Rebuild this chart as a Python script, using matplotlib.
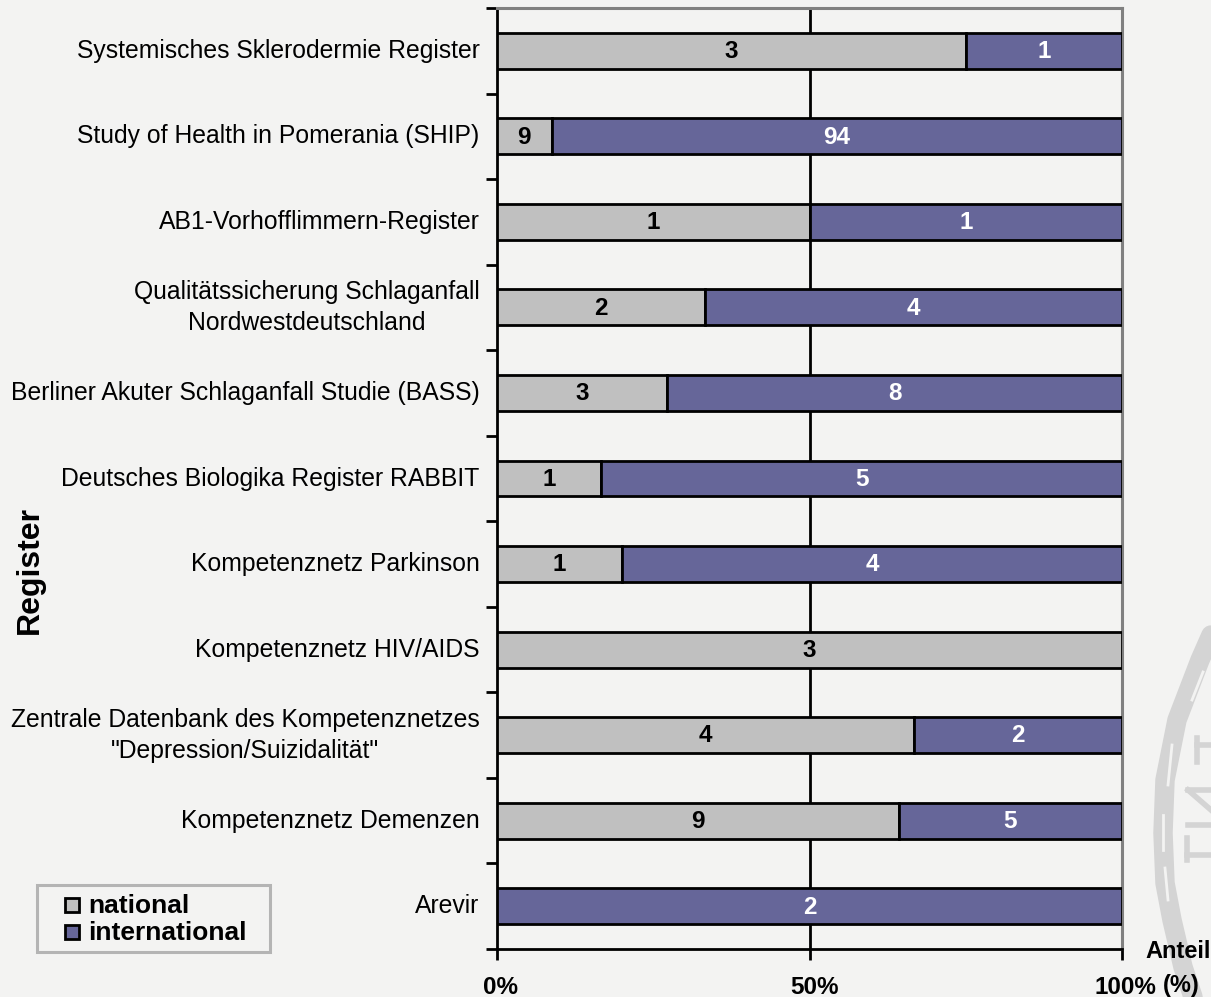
import matplotlib
matplotlib.use("Agg")
import matplotlib.pyplot as plt
from matplotlib.patches import Rectangle

plt.rcParams['font.family'] = ['Liberation Sans', 'DejaVu Sans']

registers = ["Systemisches Sklerodermie Register",
             "Study of Health in Pomerania (SHIP)",
             "AB1-Vorhofflimmern-Register",
             "Qualitätssicherung Schlaganfall\nNordwestdeutschland",
             "Berliner Akuter Schlaganfall Studie (BASS)",
             "Deutsches Biologika Register RABBIT",
             "Kompetenznetz Parkinson",
             "Kompetenznetz HIV/AIDS",
             "Zentrale Datenbank des Kompetenznetzes\n\"Depression/Suizidalität\"",
             "Kompetenznetz Demenzen",
             "Arevir"]
national = [3, 9, 1, 2, 3, 1, 1, 3, 4, 9, 0]
international = [1, 94, 1, 4, 8, 5, 4, 0, 2, 5, 2]
x_ticks = [0, 50, 100]
x_labels = ["0%", "50%", "100%"]

BG = "#f3f3f2"
GREY = "#c0c0c0"
PURPLE = "#666699"
SEAL = "#d4d4d4"
W, H = 1211, 997

fig = plt.figure(figsize=(W / 100, H / 100), dpi=100, facecolor=BG)
ax = fig.add_axes([497 / W, 1 - 949 / H, (1122 - 497) / W, (949 - 8) / H], facecolor=BG)

# watermark seal at the right edge, behind everything
wm = fig.add_axes([0, 0, 1, 1], zorder=-1)
wm.set_xlim(0, W)
wm.set_ylim(H, 0)
wm.axis("off")
wm.plot([1211, 1200, 1177, 1165, 1163, 1165, 1172, 1183, 1193],
        [635, 660, 720, 780, 833, 883, 920, 967, 997],
        color=SEAL, lw=14, solid_capstyle="round")
for xs, ys in [([1203, 1192], [672, 700]), ([1172, 1168], [745, 785]),
               ([1163, 1163], [815, 850]), ([1165, 1168], [868, 900])]:
    wm.plot(xs, ys, color=BG, lw=2)
for xs, ys in [([1211, 1197], [745, 745]), ([1197, 1197], [738, 762]),
               ([1211, 1188], [790, 790]), ([1188, 1211], [790, 810]),
               ([1211, 1188], [825, 825]), ([1211, 1187], [855, 855]),
               ([1187, 1187], [838, 860])]:
    wm.plot(xs, ys, color=SEAL, lw=4)

n = len(registers)
for i in range(n):
    total = national[i] + international[i]
    a = national[i] / total * 100
    b = international[i] / total * 100
    if a > 0:
        ax.barh(i, a, height=0.42, color=GREY, edgecolor="black", lw=2, zorder=3)
        ax.text(a / 2, i + 0.01, str(national[i]), ha="center", va="center",
                fontsize=17.5, fontweight="bold", color="black", zorder=4)
    if b > 0:
        ax.barh(i, b, left=a, height=0.42, color=PURPLE, edgecolor="black", lw=2, zorder=3)
        ax.text(a + b / 2, i + 0.01, str(international[i]), ha="center", va="center",
                fontsize=17.5, fontweight="bold", color="white", zorder=4)

ax.set_xlim(0, 100)
ax.set_ylim(n - 0.5, -0.5)
ax.axvline(50, color="black", lw=2, zorder=1)

ax.set_yticks([i - 0.5 for i in range(n + 1)])
ax.set_yticklabels([])
ax.tick_params(axis="y", length=8, width=2, color="black")
ax.set_xticks(x_ticks)
ax.set_xticklabels([])
ax.tick_params(axis="x", length=8, width=2)

# the x labels sit a bit right of their ticks
for v, lab, dx in zip(x_ticks, x_labels, [4, 5, 3]):
    ax.annotate(lab, xy=(v, 0), xycoords=ax.get_xaxis_transform(), xytext=(dx * 0.72, -38 * 0.72),
                textcoords="offset points", ha="center", va="center",
                fontsize=17.5, fontweight="bold")

for i, name in enumerate(registers):
    ax.text(-2.8, i, name, ha="right", va="center", multialignment="center",
            fontsize=17.8, linespacing=1.38, color="black")

for side in ["left", "bottom"]:
    ax.spines[side].set_linewidth(2)
for side in ["top", "right"]:
    ax.spines[side].set_linewidth(2.2)
    ax.spines[side].set_color("#808080")

fig.text(30 / W, 1 - 570 / H, "Register", rotation=90, ha="center", va="center",
         fontsize=23, fontweight="bold")
fig.text(1145 / W, 1 - 951 / H, "Anteil", ha="left", va="center", fontsize=17, fontweight="bold")
fig.text(1163 / W, 1 - 985 / H, "(%)", ha="left", va="center", fontsize=17, fontweight="bold")

# legend drawn by hand so it sits left of the axes
box = Rectangle((37 / W, 1 - 952 / H), 233 / W, 67 / H, transform=fig.transFigure,
                facecolor=BG, edgecolor="#b4b4b4", lw=2.2)
fig.add_artist(box)
for label, color, y in [("national", GREY, 905), ("international", PURPLE, 932)]:
    fig.add_artist(Rectangle((65 / W, 1 - (y + 7) / H), 14 / W, 14 / H, transform=fig.transFigure,
                             facecolor=color, edgecolor="black", lw=2))
    fig.text(88 / W, 1 - (y + 1) / H, label, ha="left", va="center", fontsize=19, fontweight="bold")

fig.savefig("out.png", dpi=100, facecolor=BG)
